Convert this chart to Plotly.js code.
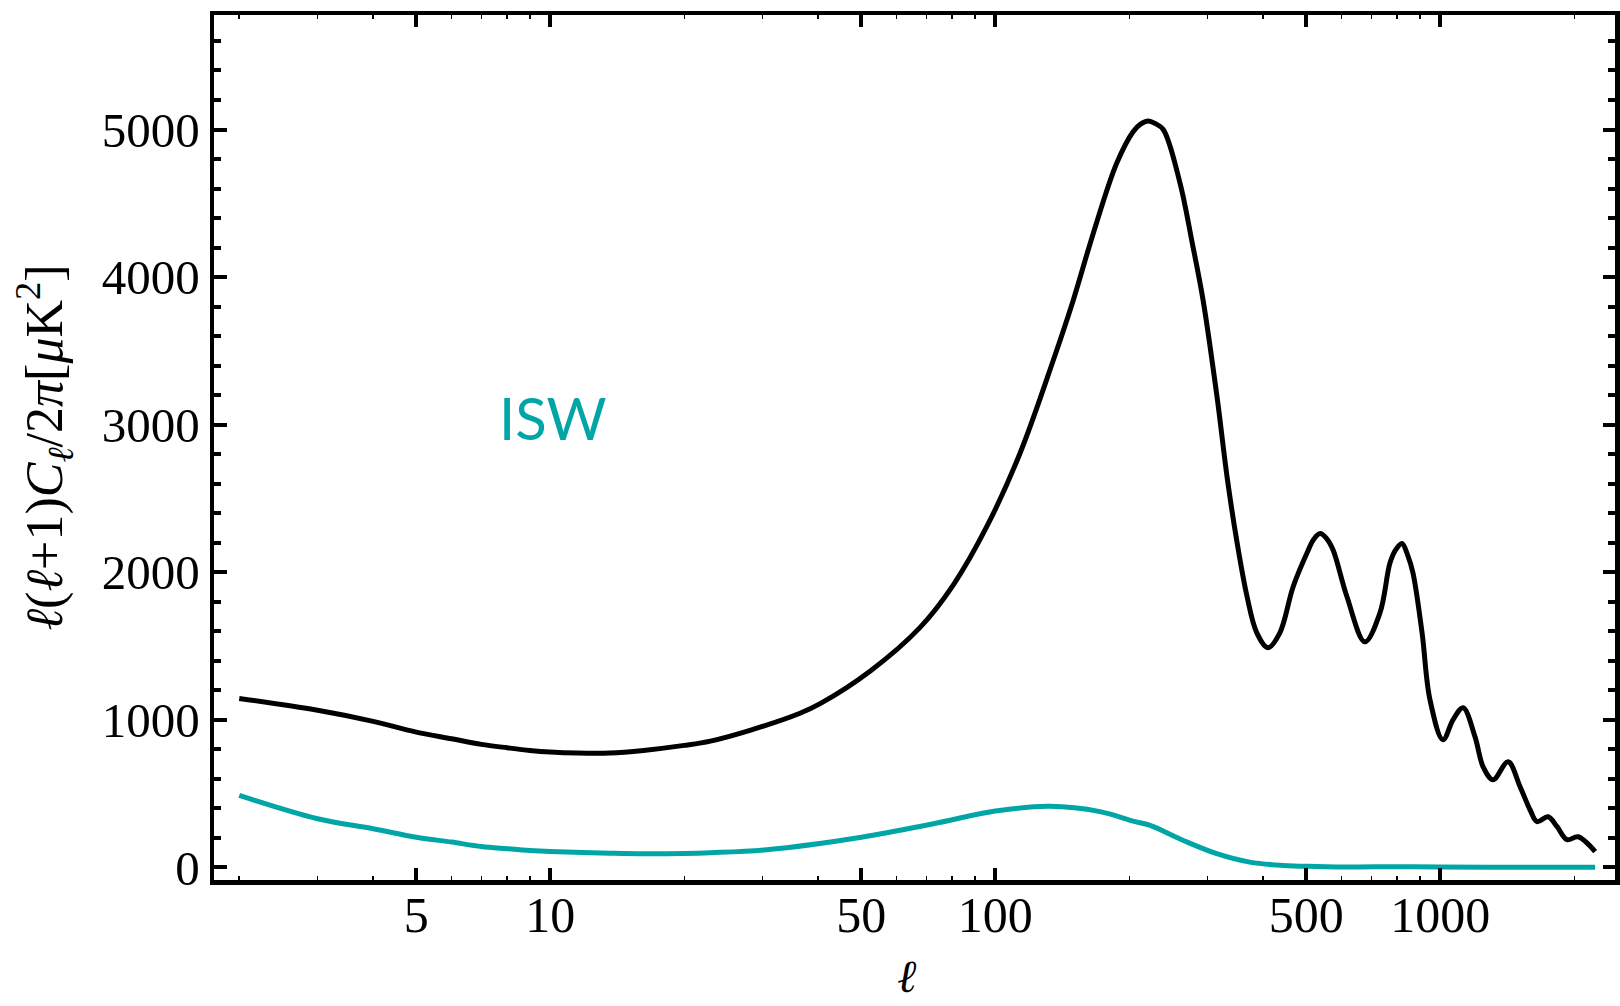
<!DOCTYPE html>
<html>
<head>
<meta charset="utf-8">
<script src="https://cdn.plot.ly/plotly-3.0.1.min.js"></script>
<style>
  html, body { margin: 0; padding: 0; background: #ffffff; }
  #plot { width: 1620px; height: 1006px; }
</style>
</head>
<body>
<div id="plot"></div>
<script>
// Total temperature power spectrum, l(l+1)C_l/2pi in muK^2
const ellTT = [2, 3, 4, 5, 6, 7, 8, 9, 10, 11.5, 13.6, 16.2, 20, 22.9, 28.1, 36.4, 40.4, 52.3, 67.7, 80.5, 95.6,
  113.6, 135, 149.7, 166, 187.4, 204, 212, 220.7, 229, 238.5, 260, 277, 293, 315, 332, 349, 368, 387, 410, 436, 467,
  502, 520, 537, 555, 574, 617, 677, 732, 771, 795, 820, 845, 868, 910, 948, 1014, 1068, 1125, 1197, 1248, 1314,
  1420, 1511, 1591, 1650, 1747, 1830, 1927, 2040, 2228];
const clTT = [1145, 1065, 990, 917, 872, 834, 811, 793, 782, 775, 775, 793, 827, 856, 929, 1045, 1110, 1330, 1625, 1915, 2307,
  2805, 3437, 3844, 4296, 4771, 4985, 5037, 5058, 5040, 5000, 4639, 4233, 3845, 3188, 2640, 2210, 1834, 1590, 1489, 1590, 1902,
  2132, 2225, 2262, 2230, 2152, 1834, 1529, 1726, 2064, 2155, 2195, 2115, 1997, 1590, 1136, 865, 1000, 1082, 885, 682, 594,
  716, 547, 391, 310, 344, 276, 188, 208, 107];

// Integrated Sachs-Wolfe contribution
const ellISW = [2, 3, 4, 5, 6, 7, 8, 9, 10, 13.6, 16.2, 20, 22.9, 30.6, 50, 72.6, 100, 132.7, 171.9, 204, 222.8,
  264.6, 314.5, 373, 443.6, 527, 627, 800, 1000, 1500, 2228];
const clISW = [488, 330, 262, 205, 172, 142, 127, 115, 108, 97, 93, 95, 100, 120, 205, 296, 382, 414, 378, 314, 285,
  183, 93, 36, 14, 7, 3, 5, 3, 1, 1];

// Axis ticks
const xTickVals = [5, 10, 50, 100, 500, 1000];
const xTickText = ['5', '10', '50', '100', '500', '1000'];
const xMinorVals = [2, 3, 4, 6, 7, 8, 9, 20, 30, 40, 60, 70, 80, 90, 200, 300, 400, 600, 700, 800, 900, 2000];
const yTickVals = [0, 1000, 2000, 3000, 4000, 5000];

const teal = '#00a6a6';
const serif = '"Liberation Serif", "Times New Roman", serif';

const traces = [
  {
    x: ellTT, y: clTT, type: 'scatter', mode: 'lines',
    line: { color: '#000000', width: 5, shape: 'spline', smoothing: 1 },
    hoverinfo: 'skip', showlegend: false
  },
  {
    x: ellISW, y: clISW, type: 'scatter', mode: 'lines',
    line: { color: teal, width: 5, shape: 'spline', smoothing: 1 },
    hoverinfo: 'skip', showlegend: false
  }
];

const layout = {
  width: 1620, height: 1006,
  paper_bgcolor: '#ffffff', plot_bgcolor: '#ffffff',
  margin: { l: 214, r: 5, t: 15, b: 126 },
  font: { family: serif, color: '#000000' },
  xaxis: {
    type: 'log',
    range: [0.2443, 3.3926],
    showgrid: false, zeroline: false,
    showline: true, linecolor: '#000000', linewidth: 4.5, mirror: 'allticks',
    ticks: 'inside', ticklen: 12, tickwidth: 4, tickcolor: '#000000',
    tickmode: 'array', tickvals: xTickVals, ticktext: xTickText,
    ticklabelstandoff: -13,
    tickfont: { family: serif, size: 50, color: '#000000' },
    minor: { ticks: 'inside', ticklen: 4, tickwidth: 1.5, tickcolor: '#000000',
             tickmode: 'array', tickvals: xMinorVals, showgrid: false }
  },
  yaxis: {
    range: [-85, 5776],
    showgrid: false, zeroline: false,
    showline: true, linecolor: '#000000', linewidth: 4.5, mirror: 'allticks',
    ticks: 'inside', ticklen: 12.5, tickwidth: 4, tickcolor: '#000000',
    tickmode: 'array', tickvals: yTickVals,
    tickfont: { family: serif, size: 49, color: '#000000' },
    minor: { ticks: 'inside', ticklen: 7, tickwidth: 4, tickcolor: '#000000', dtick: 200, showgrid: false },
    title: {
      text: '<i>ℓ</i>(<i>ℓ</i>+1)<i>C</i><sub><i>ℓ</i></sub>/2<i>π</i>[<i>μ</i>K<sup>2</sup>]',
      font: { family: serif, size: 52, color: '#000000' }, standoff: 24
    }
  },
  annotations: [
    {
      // x-axis label (multipole)
      text: '<i>ℓ</i>', xref: 'paper', yref: 'paper', x: 0.4946, y: -0.1434,
      showarrow: false, xanchor: 'center', yanchor: 'bottom',
      font: { family: serif, size: 46, color: '#000000' }
    },
    {
      text: 'ISW', xref: 'x', yref: 'y', x: 1.006, y: 3050,
      showarrow: false, xanchor: 'center', yanchor: 'middle',
      font: { family: 'Lato, "Noto Sans", sans-serif', size: 58, color: teal }
    }
  ]
};

Plotly.newPlot('plot', traces, layout, { displayModeBar: false, staticPlot: true });
</script>
</body>
</html>
